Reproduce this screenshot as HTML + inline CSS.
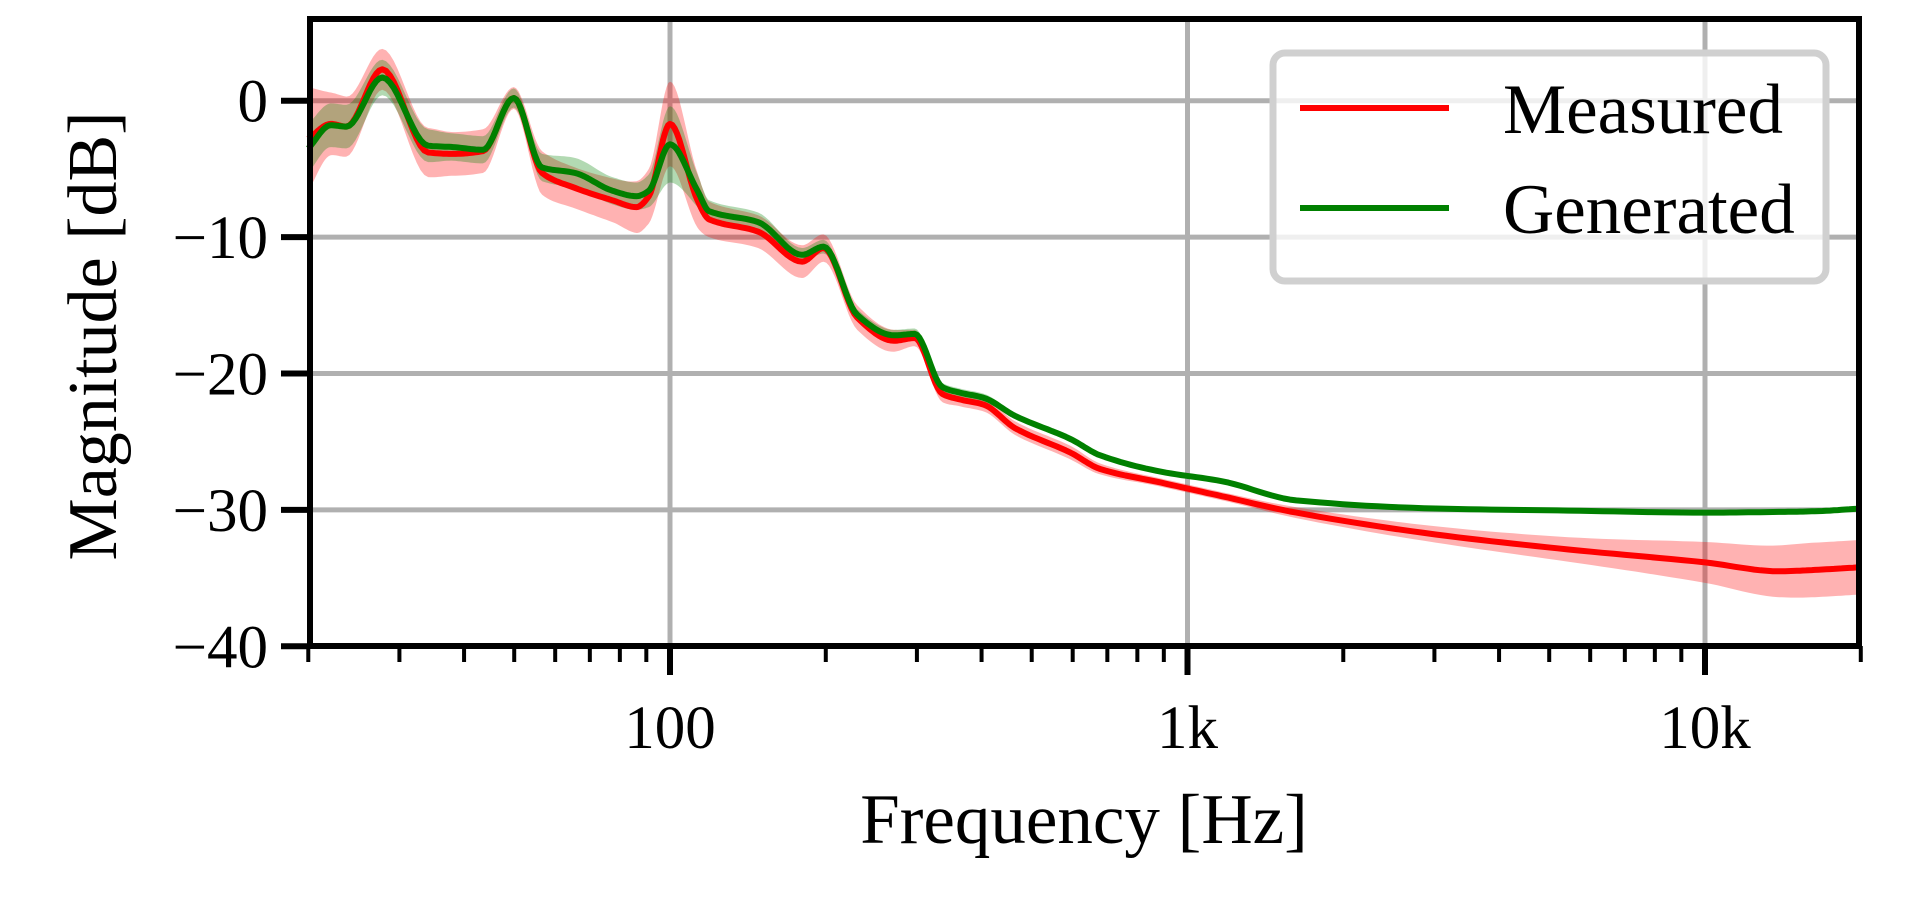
<!DOCTYPE html>
<html><head><meta charset="utf-8"><style>
html,body{margin:0;padding:0;background:#fff;}
svg{display:block;font-family:"Liberation Serif","DejaVu Serif",serif;}
</style></head><body>
<svg id="s" width="1920" height="907" viewBox="0 0 1920 907" xmlns="http://www.w3.org/2000/svg">
<rect width="1920" height="907" fill="#fff"/>
<g id="grid"></g>
<g id="bands"></g>
<g id="lines"></g>
<g id="axes"></g>
<g id="legend">
<rect x="1273" y="53" width="553" height="228" rx="12" ry="12" fill="#fff" fill-opacity="0.8" stroke="#d0d0d0" stroke-width="7"/>
<line x1="1300" y1="108" x2="1449" y2="108" stroke="#ff0000" stroke-width="6"/>
<line x1="1300" y1="208" x2="1449" y2="208" stroke="#008000" stroke-width="6"/>
<text x="1503" y="133" font-size="71">Measured</text>
<text x="1503" y="233" font-size="71">Generated</text>
</g>
<text x="1084" y="843" font-size="71" text-anchor="middle">Frequency [Hz]</text>
<text transform="translate(116,336) rotate(-90)" font-size="70" text-anchor="middle">Magnitude [dB]</text>
</svg>
<script>
var L=310,R=1859,T=19,B=646;
function X(f){return 670+(Math.log10(f)-2)*517.5;}
function Y(d){return 100.7-d*13.64;}
var NS="http://www.w3.org/2000/svg";
function el(p,t,a){var e=document.createElementNS(NS,t);for(var k in a)e.setAttribute(k,a[k]);document.getElementById(p).appendChild(e);return e;}
[0,-10,-20,-30].forEach(function(d){el("grid","line",{x1:L,x2:R,y1:Y(d),y2:Y(d),stroke:"#b0b0b0","stroke-width":5});});
[100,1000,10000].forEach(function(f){el("grid","line",{x1:X(f),x2:X(f),y1:T,y2:B,stroke:"#b0b0b0","stroke-width":5});});
var D=[[20,-2.8,-3.5,3.8,1.8],[22.1,-1.7,-1.8,2.3,1.6],[23.7,-1.9,-1.9,2.2,1.6],[27.8,2.3,1.7,1.5,1.3],[34.1,-3.8,-3.3,1.8,1.2],[38.1,-3.9,-3.4,1.6,1.0],[43.5,-3.7,-3.6,1.6,1.0],[49.9,0.2,0.2,0.8,0.7],[56.6,-5.3,-4.9,1.6,1.0],[65.6,-6.4,-5.3,1.5,1.1],[77.4,-7.3,-6.6,1.6,1.0],[86.1,-7.8,-7.0,1.9,1.0],[91,-7.0,-6.6,2.0,1.2],[100,-1.7,-3.2,3.1,2.8],[113,-7.3,-6.6,2.0,1.2],[119,-8.7,-8.1,1.3,0.8],[148,-9.6,-8.9,1.2,0.7],[180,-11.8,-11.3,1.2,0.5],[198,-10.8,-10.7,1.0,0.5],[230,-15.9,-15.7,0.9,0.4],[271,-17.6,-17.2,0.8,0.4],[297,-17.4,-17.1,0.6,0.4],[336,-21.5,-21.0,0.6,0.3],[363,-21.9,-21.4,0.5,0.3],[405,-22.3,-21.8,0.5,0.3],[464,-24.0,-23.1,0.5,0.2],[594,-25.8,-24.8,0.5,0.15],[678,-27.0,-26.0,0.4,0.1],[889,-28.0,-27.2,0.3,0.1],[1167,-29.0,-27.9,0.3,0.1],[1622,-30.2,-29.3,0.4,0.05],[3016,-31.8,-29.9,0.6,0.05],[5448,-32.9,-30.05,0.9,0.05],[10000,-33.85,-30.2,1.5,0.05],[13900,-34.5,-30.15,1.9,0.05],[16300,-34.4,-30.1,2.0,0.05],[20000,-34.2,-29.9,2.0,0.05]];
function interp(col){
  var xs=D.map(function(r){return Math.log10(r[0]);}),ys=D.map(function(r){return r[col];});
  var n=xs.length,m=[];
  for(var i=0;i<n;i++){
    if(i==0)m.push((ys[1]-ys[0])/(xs[1]-xs[0]));
    else if(i==n-1)m.push((ys[n-1]-ys[n-2])/(xs[n-1]-xs[n-2]));
    else{var a=(ys[i]-ys[i-1])/(xs[i]-xs[i-1]),b=(ys[i+1]-ys[i])/(xs[i+1]-xs[i]);m.push(a*b<=0?0:2/(1/a+1/b));}
  }
  var out=[];
  for(var i=0;i<n-1;i++){
    var h=xs[i+1]-xs[i];
    for(var k=0;k<12;k++){
      var t=k/12,t2=t*t,t3=t2*t;
      var y=(2*t3-3*t2+1)*ys[i]+(t3-2*t2+t)*h*m[i]+(-2*t3+3*t2)*ys[i+1]+(t3-t2)*h*m[i+1];
      out.push([xs[i]+t*h,y]);
    }
  }
  out.push([xs[n-1],ys[n-1]]);
  return out;
}
function px(lx){return 670+(lx-2)*517.5;}
var red=interp(1),grn=interp(2),rs=interp(3),gs=interp(4);
function band(c,s,color){
  var up=c.map(function(p,i){return px(p[0]).toFixed(1)+","+Y(p[1]+s[i][1]).toFixed(1);});
  var dn=c.map(function(p,i){return px(p[0]).toFixed(1)+","+Y(p[1]-s[i][1]).toFixed(1);}).reverse();
  el("bands","polygon",{points:up.concat(dn).join(" "),fill:color,"fill-opacity":0.3});
}
band(red,rs,"#ff0000");band(grn,gs,"#008000");
function line(c,color){el("lines","polyline",{points:c.map(function(p){return px(p[0]).toFixed(1)+","+Y(p[1]).toFixed(1);}).join(" "),fill:"none",stroke:color,"stroke-width":6,"stroke-linejoin":"round"});}
line(red,"#ff0000");line(grn,"#008000");
el("axes","rect",{x:L,y:T,width:R-L,height:B-T,fill:"none",stroke:"#000","stroke-width":6});
[0,-10,-20,-30,-40].forEach(function(d){
  el("axes","line",{x1:L-29,x2:L,y1:Y(d),y2:Y(d),stroke:"#000","stroke-width":6});
  var t=el("axes","text",{x:L-42,y:Y(d)+21,"font-size":61,"text-anchor":"end"});t.textContent=(d<0?"\u2212":"")+Math.abs(d);
});
for(var e=1;e<=4;e++)for(var k=1;k<10;k++){
  var f=k*Math.pow(10,e);if(f<20||f>20000)continue;
  var maj=(k==1);
  el("axes","line",{x1:X(f),x2:X(f),y1:B,y2:B+(maj?29:16),stroke:"#000","stroke-width":maj?6:4});
}
[[100,"100"],[1000,"1k"],[10000,"10k"]].forEach(function(a){var t=el("axes","text",{x:X(a[0]),y:748,"font-size":61,"text-anchor":"middle"});t.textContent=a[1];});
</script>
</body></html>
